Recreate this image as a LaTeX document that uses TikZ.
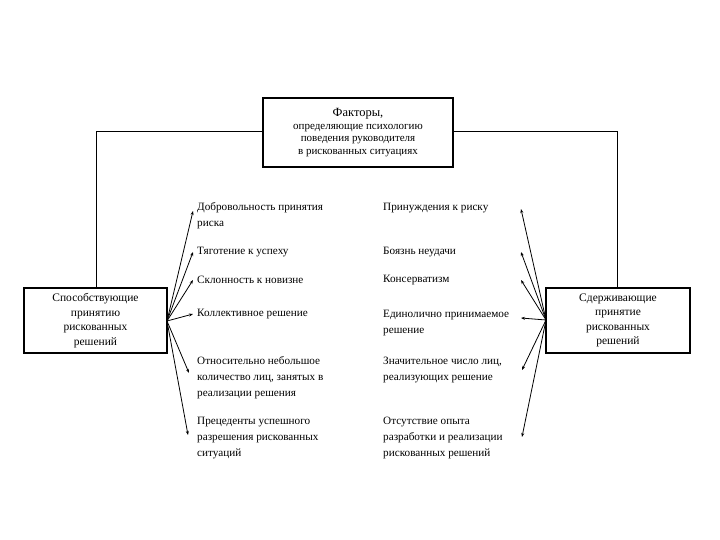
\documentclass[tikz,border=0pt]{standalone}
\usepackage{fontspec}
\setmainfont{Liberation Serif}
\usetikzlibrary{arrows.meta}
\tikzset{
  box/.style={draw, line width=1.1pt, inner sep=0pt, align=center},
  item/.style={anchor=west, align=left, inner sep=0pt, font=\fontsize{11.2}{16}\selectfont},
  conn/.style={line width=1pt},
  arr/.style={line width=0.8pt, -{Stealth[length=4pt,width=3pt]}},
}
\begin{document}
\begin{tikzpicture}[x=1pt,y=-1pt]
\useasboundingbox (0,0) rectangle (720,540);
% boxes
\node[box, minimum width=190pt, minimum height=69pt, font=\fontsize{11}{12.6}\selectfont] (top) at (358,132.5)
  {{\fontsize{12.5}{15}\selectfont Факторы,}\\определяющие психологию\\поведения руководителя\\в рискованных ситуациях};
\node[box, minimum width=143pt, minimum height=65pt, font=\fontsize{11.5}{14.5}\selectfont] (left) at (95.5,320.5)
  {Способствующие\\принятию\\рискованных\\решений};
\node[box, minimum width=144pt, minimum height=65pt, font=\fontsize{11.5}{14.5}\selectfont] (right) at (618,320.5)
  {Сдерживающие\\принятие\\рискованных\\решений};
% top connectors
\draw[conn] (top.west |- 0,132) -| (left.north -| 96,0);
\draw[conn] (top.east |- 0,132) -| (right.north -| 617,0);
% left items
\node[item] (l1) at (197,216) {Добровольность принятия\\риска};
\node[item] (l2) at (197,252) {Тяготение к успеху};
\node[item] (l3) at (197,280) {Склонность к новизне};
\node[item] (l4) at (197,314) {Коллективное решение};
\node[item] (l5) at (197,378) {Относительно небольшое\\количество лиц, занятых в\\реализации решения};
\node[item] (l6) at (197,438) {Прецеденты успешного\\разрешения рискованных\\ситуаций};
\coordinate (lo) at (167,321);
\coordinate (la1) at (193,211);
\coordinate (la2) at (193,252);
\coordinate (la3) at (193,280);
\coordinate (la4) at (193,314);
\coordinate (la5) at (189,373);
\coordinate (la6) at (188,435);
\foreach \i in {1,...,6} \draw[arr] (lo) -- (la\i);
% right items
\node[item] (r1) at (383,208) {Принуждения к риску};
\node[item] (r2) at (383,252) {Боязнь неудачи};
\node[item] (r3) at (383,280) {Консерватизм};
\node[item] (r4) at (383,323) {Единолично принимаемое\\решение};
\node[item] (r5) at (383,370) {Значительное число лиц,\\реализующих решение};
\node[item] (r6) at (383,438) {Отсутствие опыта\\разработки и реализации\\рискованных решений};
\coordinate (ro) at (546,320);
\coordinate (ra1) at (521,209);
\coordinate (ra2) at (521,252);
\coordinate (ra3) at (521,280);
\coordinate (ra4) at (521,318);
\coordinate (ra5) at (522,370);
\coordinate (ra6) at (522,437);
\foreach \i in {1,...,6} \draw[arr] (ro) -- (ra\i);
\end{tikzpicture}
\end{document}
